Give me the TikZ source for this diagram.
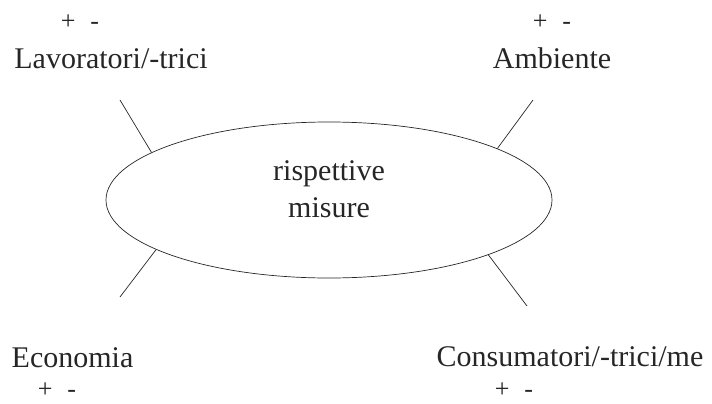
\documentclass[tikz,border=0pt]{standalone}
\usepackage{fontspec}
\setmainfont{Liberation Serif}
\usetikzlibrary{shapes.geometric}
\begin{document}
\begin{tikzpicture}[x=1pt,y=-1pt,
  lbl/.style={inner sep=0pt,anchor=base,font=\fontsize{30}{37}\selectfont,text=black!85},
  pm/.style={inner sep=0pt,anchor=center,font=\fontsize{26}{30}\selectfont,text=black!85},
  spoke/.style={draw=black!85,line width=0.7pt}]
\useasboundingbox (0,0) rectangle (712,404);
\node[ellipse,draw=black!85,line width=0.7pt,minimum width=446pt,minimum height=156pt,inner sep=0pt] (m) at (329,200) {};
\node[lbl,anchor=center,align=center] (mt) at (329,189) {rispettive\\misure};
\node[lbl] (lav) at (111,68) {Lavoratori/-trici};
\node[lbl] (amb) at (552,68) {Ambiente};
\node[lbl] (eco) at (72.5,367) {Economia};
\node[lbl] (con) at (570,366) {Consumatori/-trici/me};
\node[pm] (pmlav) at (80,22) {+\hspace{15pt}-};
\node[pm] (pmamb) at (552,22) {+\hspace{15pt}-};
\node[pm] (pmeco) at (57,390) {+\hspace{15pt}-};
\node[pm] (pmcon) at (514,390) {+\hspace{15pt}-};
\coordinate (tl) at (120,100);
\coordinate (tr) at (533,100);
\coordinate (bl) at (120,297);
\coordinate (br) at (527,306);
\draw[spoke] (tl) -- (m.165);
\draw[spoke] (tr) -- (m.17.7);
\draw[spoke] (bl) -- (m.196.9);
\draw[spoke] (br) -- (m.341.8);
\end{tikzpicture}
\end{document}
